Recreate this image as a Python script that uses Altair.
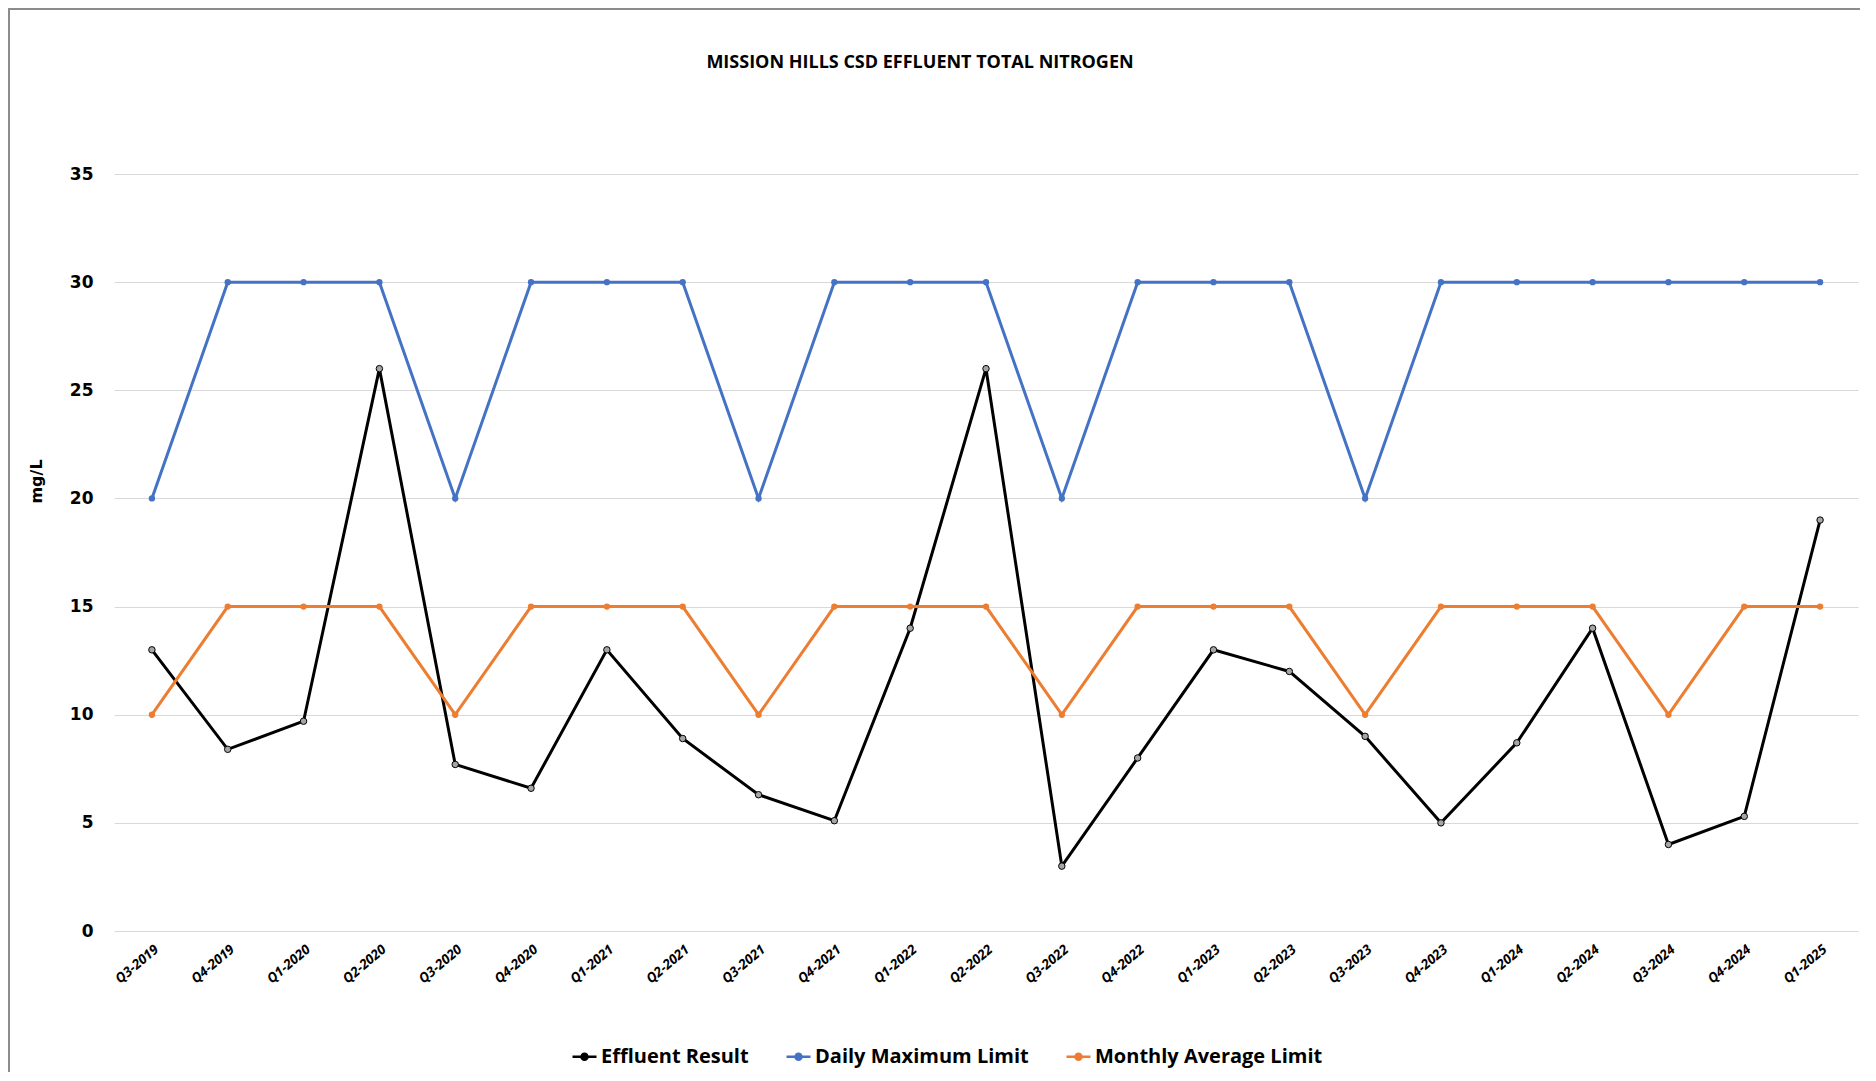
import altair as alt
import pandas as pd

quarters = ["Q3-2019", "Q4-2019", "Q1-2020", "Q2-2020", "Q3-2020", "Q4-2020",
            "Q1-2021", "Q2-2021", "Q3-2021", "Q4-2021", "Q1-2022", "Q2-2022",
            "Q3-2022", "Q4-2022", "Q1-2023", "Q2-2023", "Q3-2023", "Q4-2023",
            "Q1-2024", "Q2-2024", "Q3-2024", "Q4-2024", "Q1-2025"]
effluent = [13, 8.4, 9.7, 26, 7.7, 6.6, 13, 8.9, 6.3, 5.1, 14, 26,
            3, 8, 13, 12, 9, 5, 8.7, 14, 4, 5.3, 19]
daily_max = [20, 30, 30, 30, 20, 30, 30, 30, 20, 30, 30, 30,
             20, 30, 30, 30, 20, 30, 30, 30, 30, 30, 30]
monthly_avg = [10, 15, 15, 15, 10, 15, 15, 15, 10, 15, 15, 15,
               10, 15, 15, 15, 10, 15, 15, 15, 10, 15, 15]
series_names = ["Effluent Result", "Daily Maximum Limit", "Monthly Average Limit"]
series_colors = ["#000000", "#4472C4", "#ED7D31"]
y_ticks = [0, 5, 10, 15, 20, 25, 30, 35]

rows = []
for name, vals in zip(series_names, [effluent, daily_max, monthly_avg]):
    for q, v in zip(quarters, vals):
        rows.append({"quarter": q, "value": v, "series": name})
df = pd.DataFrame(rows)

W, H = 1744, 757
PAD_L, PAD_T = 106, 166

x_enc = alt.X("quarter:O", sort=quarters, title=None,
              axis=alt.Axis(labelAngle=-40, labelAlign="right", labelBaseline="top",
                            labelFont="Open Sans", labelFontStyle="italic",
                            labelFontWeight="bold", labelFontSize=13.5,
                            labelColor="#000000", labelPadding=11,
                            ticks=False, domain=False, grid=False))
y_enc = alt.Y("value:Q", scale=alt.Scale(domain=[0, 35], nice=False),
              axis=alt.Axis(values=y_ticks, title="mg/L", titleFont="DejaVu Sans",
                            titleFontWeight="bold", titleFontSize=16, titleColor="#000000",
                            titleAngle=-90, titleAlign="center", titleBaseline="middle",
                            titleX=-78, titleY=307,
                            labelFont="DejaVu Sans", labelFontWeight="bold",
                            labelFontSize=17, labelColor="#000000", labelPadding=21,
                            grid=True, gridColor="#D9D9D9", gridWidth=1.2,
                            ticks=False, domain=False))

sym_path = ("M-1,0L-0.25,0M0.25,0L1,0M-0.25,0A0.25,0.25,0,1,1,0.25,0"
            "A0.25,0.25,0,1,1,-0.25,0")
legend = alt.Legend(
    title=None, orient="none", direction="horizontal", legendX=457, legendY=869,
    labelFont="Open Sans", labelFontWeight="bold", labelFontSize=20,
    labelColor="#000000", labelOffset=3, columnPadding=32, labelLimit=1000,
    symbolType=sym_path, symbolSize=576, symbolStrokeWidth=2.5,
    symbolFillColor={"expr": "datum.value == 'Effluent Result' ? '#A5A5A5' : scale('color', datum.value)"})

color_enc = alt.Color("series:N", scale=alt.Scale(domain=series_names, range=series_colors),
                      legend=legend)

base = alt.Chart(df)
lines = base.mark_line(strokeWidth=3).encode(x=x_enc, y=y_enc, color=color_enc)
limit_pts = base.transform_filter(alt.datum.series != "Effluent Result").mark_point(
    filled=True, size=40, opacity=1).encode(x=x_enc, y=y_enc, color=color_enc)
eff_pts = base.transform_filter(alt.datum.series == "Effluent Result").mark_point(
    filled=True, size=42, fill="#A5A5A5", stroke="#000000", strokeWidth=1, opacity=1
).encode(x=x_enc, y=y_enc)

one = pd.DataFrame({"t": ["MISSION HILLS CSD EFFLUENT TOTAL NITROGEN"]})
title = alt.Chart(one).mark_text(font="Open Sans", fontWeight="bold", fontSize=18,
                                 color="#000000", baseline="alphabetic", align="center").encode(
    text="t:N", x=alt.value(806), y=alt.value(-106))
border_left = alt.Chart(one).mark_rule(color="#8C8C8C", strokeWidth=2).encode(
    x=alt.value(-PAD_L + 1), y=alt.value(-PAD_T), y2=alt.value(H + 200))
border_top = alt.Chart(one).mark_rule(color="#8C8C8C", strokeWidth=2).encode(
    y=alt.value(-PAD_T + 1), x=alt.value(-PAD_L), x2=alt.value(W + 20))

chart = alt.layer(border_left, border_top, title, lines, limit_pts, eff_pts).properties(
    width=W, height=H,
    autosize=alt.AutoSizeParams(type="none"),
    padding={"left": PAD_L, "top": PAD_T, "right": 2, "bottom": 141},
    background="#FFFFFF",
).configure_view(stroke=None)

chart.save("out.html", embed_options={"renderer": "svg", "actions": False})
